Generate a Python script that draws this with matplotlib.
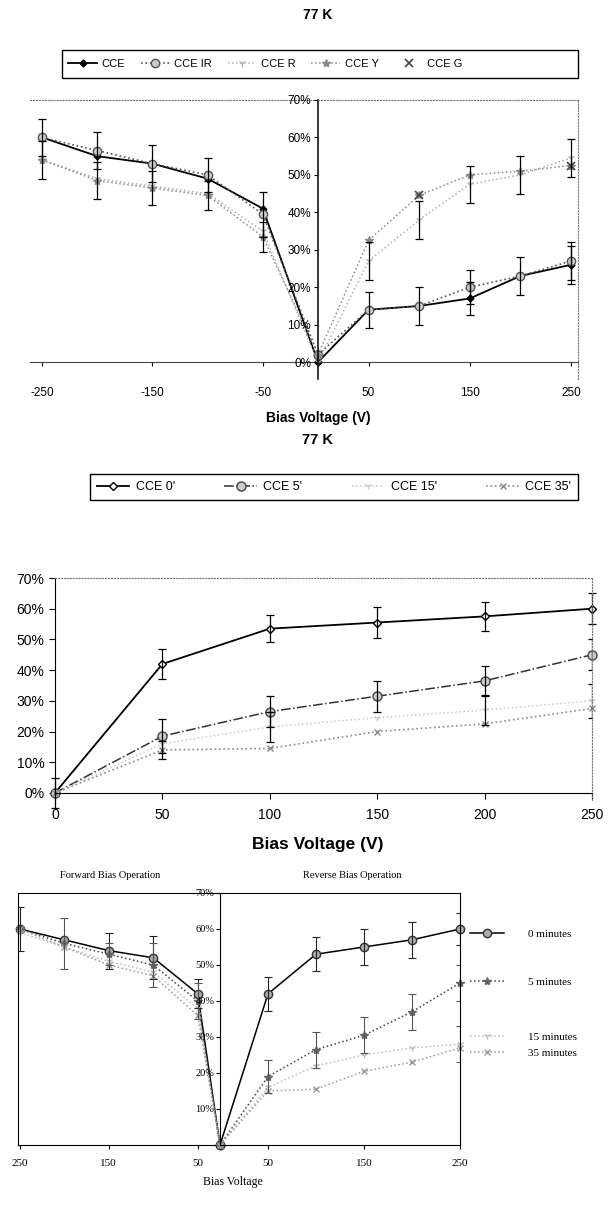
import matplotlib
matplotlib.use("Agg")
import matplotlib.pyplot as plt
from matplotlib.patches import Rectangle
from matplotlib.ticker import FuncFormatter

plt.rcParams["font.family"] = ["Liberation Sans", "DejaVu Sans"]
SERIF = ["Liberation Serif", "DejaVu Serif"]
nan = float("nan")

# ---------- panel 1 data (77 K, forward / reverse) ----------
volt1_fwd = [-250, -200, -150, -100, -50, 0]
cce_fwd = [60, 55, 53, 49, 41, 0]
ir_fwd = [60, 56.5, 53, 50, 39.5, 2]
r_fwd = [54, 49, 47, 45, 35, 0]
y_fwd = [54, 48.5, 46.5, 44.5, 33.5, 2]
ir_fwd_err = [5, 5, 5, 4.5, 6, nan]
y_fwd_err = [5, 5, 4.5, 4, 4, nan]

volt1_rev = [0, 50, 100, 150, 200, 250]
cce_rev = [0, 14, 15, 17, 23, 26]
ir_rev = [2, 14, 15, 20, 23, 27]
r_rev = [0, 27, 38, 47.5, 50, 54.5]
y_rev = [2, 32.5, 44.5, 50, 51, 52.5]
cce_rev_err = [nan, 4.8, 5, 4.5, 5, 5]
ir_rev_err = [nan, nan, nan, 4.5, nan, 5]
r_rev_err = [nan, 5, 5, 5, 5, 5]
volt1_g = [100, 250]
g_vals = [44.5, 52.5]

labels1 = ["CCE", "CCE IR", "CCE R", "CCE Y", "CCE G"]

# ---------- panel 2 data (77 K, time series) ----------
volt2 = [0, 50, 100, 150, 200, 250]
cce0 = [0, 42, 53.5, 55.5, 57.5, 60]
cce5 = [0, 18.5, 26.5, 31.5, 36.5, 45]
cce15 = [0, 16, 21.5, 24.5, 27, 30]
cce35 = [0, 14, 14.5, 20, 22.5, 27.5]
cce0_err = [5, 5, 4.5, 5, 4.8, 5]
cce5_err = [nan, 5.5, 5, 5, 5, 5]
cce15_err = [nan, nan, 5, nan, 5, 5.5]
cce35_err = [nan, 3, nan, nan, nan, nan]
labels2 = ["CCE 0'", "CCE 5'", "CCE 15'", "CCE 35'"]

# ---------- panel 3 data (forward / reverse operation) ----------
volt3_fwd = [-250, -200, -150, -100, -50, -25]
m0_fwd = [60, 57, 54, 52, 42, 0]
m5_fwd = [60, 56, 53, 50, 40, 0]
m15_fwd = [59, 55, 51, 48, 38, 0]
m35_fwd = [60, 55, 50, 47, 36, 0]
m0_fwd_err = [6, nan, 5, 6, 4, nan]
m5_fwd_err = [nan, 7, 3, 6, 5, nan]

volt3_rev = [0, 50, 100, 150, 200, 250]
m0_rev = [0, 42, 53, 55, 57, 60]
m5_rev = [0, 19, 26.5, 30.5, 37, 45]
m15_rev = [0, 16, 22, 25, 27, 28]
m35_rev = [0, 15, 15.5, 20.5, 23, 27]
m0_rev_err = [nan, 4.7, 4.8, 5, 5, 4.5]
m5_rev_err = [nan, 4.5, 5, 5, 5, 5]
m15_rev_err = [nan, nan, nan, nan, nan, 5]
labels3a = ["0 minutes", "5 minutes"]
labels3b = ["15 minutes", "35 minutes"]

W, H = 610, 1216
fig = plt.figure(figsize=(W / 100, H / 100), dpi=100)


def box(l, t, r, b):
    return [l / W, 1 - b / H, (r - l) / W, (b - t) / H]


def fx(px):
    return px / W


def fy(py):
    return 1 - py / H


pct = FuncFormatter(lambda v, _: f"{v:.0f}%")

st1 = [
    dict(color="black", ls="-", lw=1.3, marker="D", ms=3.5, mfc="black", mec="black"),
    dict(color="#555555", ls=":", lw=1.2, marker="o", ms=6, mfc="#cccccc", mec="#555555"),
    dict(color="#b0b0b0", ls=":", lw=1.1, marker="1", ms=6, mec="#b0b0b0"),
    dict(color="#8a8a8a", ls=":", lw=1.1, marker="*", ms=6, mfc="#8a8a8a", mec="#8a8a8a"),
    dict(color="#444444", ls="none", marker="x", ms=6, mew=1.2),
]
eb = dict(fmt="none", ecolor="black", elinewidth=0.9, capsize=3, capthick=0.9)

# ================= panel 1 =================
fig.text(fx(318), fy(15), "77 K", ha="center", va="center", fontsize=10, weight="bold")

axL = fig.add_axes(box(30, 100, 318, 379))
axR = fig.add_axes(box(318, 100, 578, 379))
for ax in (axL, axR):
    ax.set_facecolor("none")
    ax.set_ylim(-4.5, 70)
    ax.spines["top"].set_linestyle(":")
    ax.spines["top"].set_color("#777777")
    ax.spines["bottom"].set_position(("data", 0))
    ax.spines["bottom"].set_color("#444444")
    ax.tick_params(axis="x", direction="out", length=3, pad=15, labelsize=8.5)

axL.set_xlim(-261, 0)
axL.spines["left"].set_visible(False)
axL.spines["right"].set_visible(False)
axL.set_yticks([])
axL.set_xticks([-250, -150, -50])
axL.set_xticklabels(["-250", "-150", "-50"])

axR.set_xlim(0, 257)
axR.spines["right"].set_linestyle(":")
axR.spines["right"].set_color("#777777")
axR.spines["left"].set_linewidth(1.1)
axR.set_xticks([50, 150, 250])
axR.set_yticks(range(0, 80, 10))
axR.yaxis.set_major_formatter(pct)
axR.tick_params(axis="y", length=3, labelsize=8.5, pad=2)

for vals, s in zip([cce_fwd, ir_fwd, r_fwd, y_fwd], st1):
    axL.plot(volt1_fwd, vals, clip_on=False, **s)
axL.errorbar(volt1_fwd, ir_fwd, yerr=ir_fwd_err, **eb)
axL.errorbar(volt1_fwd, y_fwd, yerr=y_fwd_err, **eb)

h1 = []
for vals, s in zip([cce_rev, ir_rev, r_rev, y_rev], st1):
    h1 += axR.plot(volt1_rev, vals, clip_on=False, **s)
h1 += axR.plot(volt1_g, g_vals, clip_on=False, **st1[4])
axR.errorbar(volt1_rev, cce_rev, yerr=cce_rev_err, **eb)
axR.errorbar(volt1_rev, ir_rev, yerr=ir_rev_err, **eb)
axR.errorbar(volt1_rev, r_rev, yerr=r_rev_err, **eb)

# legend frame wider than its entries, as in the scan
fig.patches.append(Rectangle((fx(62), fy(78)), fx(516), 28 / H, transform=fig.transFigure,
                             fill=False, edgecolor="black", lw=1.0))
fig.legend(h1, labels1, loc="center left", bbox_to_anchor=(fx(64), fy(64)),
           ncol=5, fontsize=8, frameon=False, borderaxespad=0, handlelength=2.6,
           handletextpad=0.4, columnspacing=1.4)

fig.text(fx(318), fy(418), "Bias Voltage (V)", ha="center", va="center",
         fontsize=10, weight="bold")

# ================= panel 2 =================
fig.text(fx(318), fy(440), "77 K", ha="center", va="center", fontsize=10.5, weight="bold")

st2 = [
    dict(color="black", ls="-", lw=1.3, marker="D", ms=4, mfc="white", mec="black"),
    dict(color="#333333", ls="-.", lw=1.1, marker="o", ms=6.5, mfc="#cccccc", mec="#444444"),
    dict(color="#c8c8c8", ls=":", lw=1.1, marker="1", ms=5, mec="#c8c8c8"),
    dict(color="#8a8a8a", ls=":", lw=1.2, marker="x", ms=5, mec="#8a8a8a"),
]

ax2 = fig.add_axes(box(55, 578, 592, 800))
ax2.set_xlim(0, 250)
ax2.set_ylim(-2.3, 70)
ax2.spines["bottom"].set_position(("data", 0))
for sp in ("top", "right"):
    ax2.spines[sp].set_linestyle(":")
    ax2.spines[sp].set_color("#777777")
ax2.set_xticks(range(0, 300, 50))
ax2.set_yticks(range(0, 80, 10))
ax2.yaxis.set_major_formatter(pct)
ax2.tick_params(axis="both", labelsize=10, length=4)
ax2.tick_params(axis="x", pad=7)

h2 = []
for vals, s in zip([cce0, cce5, cce15, cce35], st2):
    h2 += ax2.plot(volt2, vals, clip_on=False, **s)
ax2.errorbar(volt2, cce0, yerr=cce0_err, clip_on=False, **eb)
ax2.errorbar(volt2, cce5, yerr=cce5_err, **eb)
ax2.errorbar(volt2, cce15, yerr=cce15_err, **eb)
ax2.errorbar(volt2, cce35, yerr=cce35_err, **eb)

fig.legend(h2, labels2, loc="lower left",
           bbox_to_anchor=(fx(90), fy(500), fx(488), 30 / H), mode="expand",
           ncol=4, fontsize=9, frameon=True, fancybox=False, edgecolor="black",
           framealpha=1, borderaxespad=0, borderpad=0.55, handlelength=2.6,
           handletextpad=0.5)

fig.text(fx(318), fy(845), "Bias Voltage (V)", ha="center", va="center",
         fontsize=12.5, weight="bold")

# ================= panel 3 =================
st3 = [
    dict(color="black", ls="-", lw=1.1, marker="o", ms=6, mfc="#aaaaaa", mec="#333333"),
    dict(color="#444444", ls=":", lw=1.1, marker="*", ms=6, mfc="#666666", mec="#666666"),
    dict(color="#bdbdbd", ls=":", lw=1.1, marker="1", ms=5, mec="#bdbdbd"),
    dict(color="#9a9a9a", ls=":", lw=1.1, marker="x", ms=5, mec="#9a9a9a"),
]
eb3 = dict(fmt="none", ecolor="#222222", elinewidth=0.8, capsize=3, capthick=0.8)
eb3d = dict(fmt="none", ecolor="#555555", elinewidth=0.8, capsize=3, capthick=0.8,
            ls=":")

ax3L = fig.add_axes(box(18, 893, 220, 1145))
ax3R = fig.add_axes(box(220, 893, 460, 1145))
for ax in (ax3L, ax3R):
    ax.set_facecolor("none")
    ax.set_ylim(0, 70)
    for sp in ax.spines.values():
        sp.set_linewidth(0.8)
    ax.tick_params(axis="x", labelsize=8, length=3, pad=7)

ax3L.set_xlim(-252, -25)
ax3L.spines["right"].set_visible(False)
ax3L.set_yticks([])
ax3L.set_xticks([-250, -150, -50])
ax3L.set_xticklabels(["250", "150", "50"], family=SERIF)

ax3R.set_xlim(0, 250)
ax3R.set_xticks([50, 150, 250])
ax3R.set_xticklabels(["50", "150", "250"], family=SERIF)
ax3R.set_yticks(range(10, 80, 10))
ax3R.set_yticklabels([f"{v}%" for v in range(10, 80, 10)], family=SERIF)
ax3R.tick_params(axis="y", labelsize=7.5, length=3, pad=1)

for vals, s in zip([m0_fwd, m5_fwd, m15_fwd, m35_fwd], st3):
    ax3L.plot(volt3_fwd, vals, clip_on=False, **s)
ax3L.errorbar(volt3_fwd, m0_fwd, yerr=m0_fwd_err, **eb3)
ax3L.errorbar(volt3_fwd, m5_fwd, yerr=m5_fwd_err, **eb3d)

h3 = []
for vals, s in zip([m0_rev, m5_rev, m15_rev, m35_rev], st3):
    h3 += ax3R.plot(volt3_rev, vals, clip_on=False, **s)
ax3R.errorbar(volt3_rev, m0_rev, yerr=m0_rev_err, **eb3)
ax3R.errorbar(volt3_rev, m5_rev, yerr=m5_rev_err, **eb3d)
ax3R.errorbar(volt3_rev, m15_rev, yerr=m15_rev_err, **eb3d)

fig.text(fx(110), fy(876), "Forward Bias Operation", ha="center", va="center",
         fontsize=7.5, family=SERIF)
fig.text(fx(352), fy(876), "Reverse Bias Operation", ha="center", va="center",
         fontsize=7.5, family=SERIF)
fig.text(fx(233), fy(1182), "Bias Voltage", ha="center", va="center",
         fontsize=8.5, family=SERIF)

fig.legend(h3[:2], labels3a, loc="upper left",
           bbox_to_anchor=(fx(466), fy(925)), frameon=False,
           prop={"family": SERIF, "size": 8}, labelspacing=3.4,
           handlelength=3.0, handletextpad=2.2, borderaxespad=0)
fig.legend(h3[2:], labels3b, loc="upper left",
           bbox_to_anchor=(fx(466), fy(1028)), frameon=False,
           prop={"family": SERIF, "size": 8}, labelspacing=0.5,
           handlelength=3.0, handletextpad=2.2, borderaxespad=0)

fig.savefig("out.png", dpi=100)
